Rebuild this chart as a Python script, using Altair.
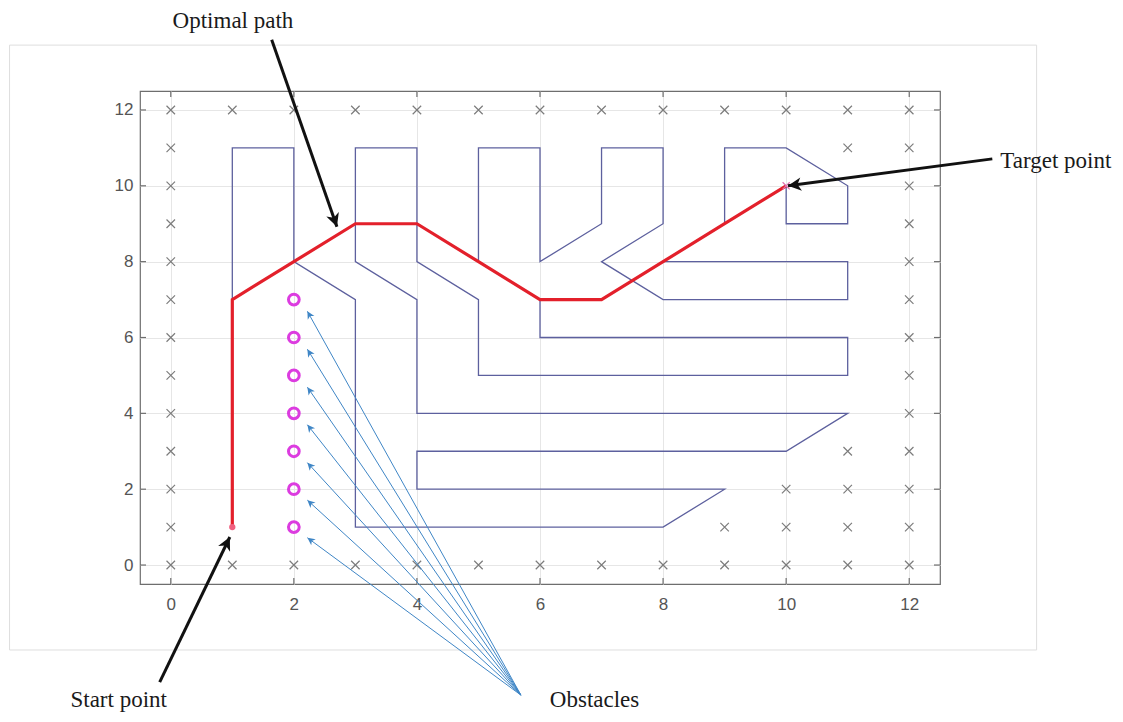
import altair as alt
import pandas as pd
import numpy as np

# ---------------- data ----------------
X_DOMAIN = [-0.5, 12.5]
Y_DOMAIN = [-0.5, 12.5]
TICKS = [0, 2, 4, 6, 8, 10, 12]

# maze walls (one continuous polyline)
maze_x = [1, 1, 2, 2, 3, 3, 8, 9, 4, 4, 10, 11, 4, 4, 3, 3, 4, 4, 5, 5, 11, 11, 6, 6,
          5, 5, 6, 6, 7, 7, 8, 8, 7, 8, 11, 11, 8, 9, 9, 10, 11, 11, 10, 10]
maze_y = [7, 11, 11, 8, 7, 1, 1, 2, 2, 3, 3, 4, 4, 7, 8, 11, 11, 8, 7, 5, 5, 6, 6, 7,
          8, 11, 11, 8, 9, 11, 11, 9, 8, 7, 7, 8, 8, 9, 11, 11, 10, 9, 9, 10]

# optimal path
path_x = [1, 1, 2, 3, 4, 5, 6, 7, 8, 9, 10]
path_y = [1, 7, 8, 9, 9, 8, 7, 7, 8, 9, 10]

# obstacles
obs_x = [2, 2, 2, 2, 2, 2, 2]
obs_y = [1, 2, 3, 4, 5, 6, 7]

# free grid nodes (gray crosses)
cross_x = (list(range(13)) + [0, 11, 12] + [0, 12] * 7 + [0, 11, 12] + [0, 10, 11, 12]
           + [0, 9, 10, 11, 12] + list(range(13)))
cross_y = ([12] * 13 + [11] * 3 + [10, 10, 9, 9, 8, 8, 7, 7, 6, 6, 5, 5, 4, 4] + [3] * 3
           + [2] * 4 + [1] * 5 + [0] * 13)

# annotations (data units, outside the axes)
label_text = ["Optimal path", "Target point", "Start point", "Obstacles"]
label_x = [0.03, 13.48, -1.63, 6.16]
label_y = [14.17, 10.47, -3.75, -3.75]

black_tail_x = [1.64, 13.35, -0.18]
black_tail_y = [13.85, 10.71, -3.09]
black_head_x = [2.70, 10.03, 0.96]
black_head_y = [8.92, 10.00, 0.74]

obs_arrow_tail_x = [5.69] * 7
obs_arrow_tail_y = [-3.43] * 7
obs_arrow_head_x = [2.22] * 7
obs_arrow_head_y = [0.72, 1.71, 2.70, 3.70, 4.69, 5.69, 6.69]

panel_x = [-2.62]
panel_x2 = [14.07]
panel_y = [-2.24]
panel_y2 = [13.71]

# ---------------- helpers ----------------
W, H = 800, 493
PX_X = W / (X_DOMAIN[1] - X_DOMAIN[0])
PX_Y = H / (Y_DOMAIN[1] - Y_DOMAIN[0])

xs = alt.Scale(domain=X_DOMAIN, nice=False, zero=False)
ys = alt.Scale(domain=Y_DOMAIN, nice=False, zero=False)
AX = alt.Axis(values=TICKS, grid=True, title=None, labelPadding=12)
AY = alt.Axis(values=TICKS, grid=True, title=None, labelPadding=7)


def X(f, **kw):
    return alt.X(f, type="quantitative", scale=xs, axis=AX, **kw)


def Y(f, **kw):
    return alt.Y(f, type="quantitative", scale=ys, axis=AY, **kw)


def head_angles(tx, ty, hx, hy):
    dx = (np.array(hx) - np.array(tx)) * PX_X
    dys = -(np.array(hy) - np.array(ty)) * PX_Y
    return list(np.mod(np.degrees(np.arctan2(dx, -dys)), 360))


HEAD = "M0,0L0.5,1L0,0.72L-0.5,1Z"

# ---------------- layers ----------------
panel = alt.Chart(pd.DataFrame({"x": panel_x, "x2": panel_x2, "y": panel_y, "y2": panel_y2})).mark_rect(
    fill="white", fillOpacity=0, stroke="#dedede", strokeWidth=1
).encode(x=X("x"), x2="x2", y=Y("y"), y2="y2")

tick_rows = []
for t in TICKS:
    tick_rows.append({"x": t, "x2": t, "y": Y_DOMAIN[0], "y2": Y_DOMAIN[0] + 6 / PX_Y})
    tick_rows.append({"x": t, "x2": t, "y": Y_DOMAIN[1], "y2": Y_DOMAIN[1] - 6 / PX_Y})
    tick_rows.append({"x": X_DOMAIN[0], "x2": X_DOMAIN[0] + 6 / PX_X, "y": t, "y2": t})
    tick_rows.append({"x": X_DOMAIN[1], "x2": X_DOMAIN[1] - 6 / PX_X, "y": t, "y2": t})
ticks = alt.Chart(pd.DataFrame(tick_rows)).mark_rule(color="#6e6e6e", strokeWidth=1.2).encode(
    x=X("x"), x2="x2", y=Y("y"), y2="y2"
)

maze = alt.Chart(pd.DataFrame({"x": maze_x, "y": maze_y, "i": range(len(maze_x))})).mark_line(
    color="#5d609e", strokeWidth=1.3
).encode(x=X("x"), y=Y("y"), order="i:Q")

crosses = alt.Chart(pd.DataFrame({"x": cross_x, "y": cross_y})).mark_point(
    shape="M-1,-1L1,1M1,-1L-1,1", size=72, filled=False, color="#7c7c7c", strokeWidth=1.2, opacity=1
).encode(x=X("x"), y=Y("y"))

path = alt.Chart(pd.DataFrame({"x": path_x, "y": path_y, "i": range(len(path_x))})).mark_line(
    color="#e3202b", strokeWidth=3.2
).encode(x=X("x"), y=Y("y"), order="i:Q")

start = alt.Chart(pd.DataFrame({"x": path_x[:1], "y": path_y[:1]})).mark_point(
    shape="circle", size=40, filled=True, color="#f06080", opacity=1
).encode(x=X("x"), y=Y("y"))

target = alt.Chart(pd.DataFrame({"x": path_x[-1:], "y": path_y[-1:]})).mark_point(
    shape="M-1,-1L1,1M1,-1L-1,1", size=50, filled=False, color="#e070b0", strokeWidth=1.2, opacity=1
).encode(x=X("x"), y=Y("y"))

obstacles = alt.Chart(pd.DataFrame({"x": obs_x, "y": obs_y})).mark_point(
    shape="circle", size=115, filled=False, color="#dc3ce0", strokeWidth=3, opacity=1
).encode(x=X("x"), y=Y("y"))

obs_df = pd.DataFrame({
    "x": obs_arrow_tail_x, "y": obs_arrow_tail_y, "x2": obs_arrow_head_x, "y2": obs_arrow_head_y,
    "ang": head_angles(obs_arrow_tail_x, obs_arrow_tail_y, obs_arrow_head_x, obs_arrow_head_y),
})
obs_lines = alt.Chart(obs_df).mark_rule(color="#3f86c6", strokeWidth=1).encode(
    x=X("x"), y=Y("y"), x2="x2", y2="y2"
)
obs_heads = alt.Chart(obs_df).mark_point(
    shape=HEAD, size=230, filled=True, color="#3f86c6", opacity=1
).encode(x=X("x2"), y=Y("y2"), angle=alt.Angle("ang:Q", scale=None))

blk_df = pd.DataFrame({
    "x": black_tail_x, "y": black_tail_y, "x2": black_head_x, "y2": black_head_y,
    "ang": head_angles(black_tail_x, black_tail_y, black_head_x, black_head_y),
})
blk_lines = alt.Chart(blk_df).mark_rule(color="#111111", strokeWidth=3).encode(
    x=X("x"), y=Y("y"), x2="x2", y2="y2"
)
blk_heads = alt.Chart(blk_df).mark_point(
    shape=HEAD, size=700, filled=True, color="#111111", opacity=1
).encode(x=X("x2"), y=Y("y2"), angle=alt.Angle("ang:Q", scale=None))

labels = alt.Chart(pd.DataFrame({"t": label_text, "x": label_x, "y": label_y})).mark_text(
    font="Liberation Serif", fontSize=23, color="#1a1a1a", align="left", baseline="alphabetic"
).encode(x=X("x"), y=Y("y"), text="t:N")

chart = alt.layer(
    panel, ticks, maze, crosses, obs_lines, obs_heads, path, start, target, obstacles,
    blk_lines, blk_heads, labels
).properties(
    width=W, height=H,
    autosize=alt.AutoSizeParams(type="none"),
    padding={"left": 132, "top": 83, "right": 175, "bottom": 130},
    background="white",
).configure_view(
    stroke="#6e6e6e", strokeWidth=1.2
).configure_axis(
    labelFont="Liberation Sans", labelFontSize=17, labelColor="#555555",
    gridColor="#e6e6e6", gridWidth=1, domain=False, ticks=False, tickSize=0,
)

chart.save("out.html", embed_options={"renderer": "svg", "actions": False})
